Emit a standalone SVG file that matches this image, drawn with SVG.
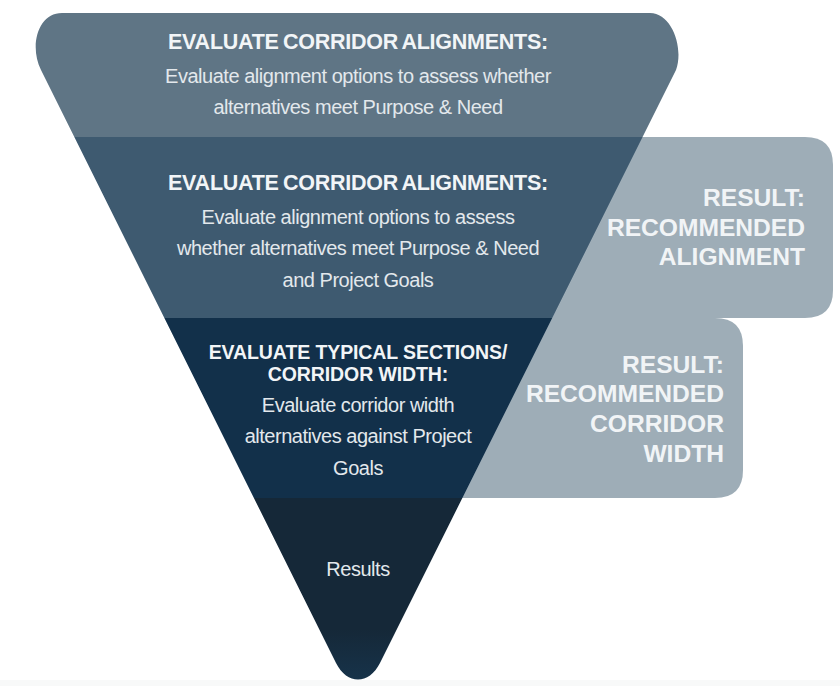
<svg xmlns="http://www.w3.org/2000/svg" width="840" height="686" viewBox="0 0 840 686">
<style>
text{font-family:"Liberation Sans",Arial,sans-serif;text-anchor:middle}
.h{font-size:21.5px;font-weight:bold;fill:#f2f5f7;letter-spacing:-.25px;word-spacing:-1.5px}
.h3{font-size:19.5px;font-weight:bold;fill:#f2f5f7;letter-spacing:-.1px}
.b{font-size:20px;fill:#e3e8ec;letter-spacing:-.48px}
.r{font-size:24.6px;font-weight:bold;fill:#f1f4f6;text-anchor:end}
</style>
<defs>
<clipPath id="funnel"><path d="M62 13H650C672 13 684 48 676 70L380 663C369 685 347 685 336 663L41 70C29 46 38 13 62 13Z"/></clipPath>
<linearGradient id="tip" x1="0" y1="0" x2="0" y2="1"><stop offset="0" stop-color="#152838"/><stop offset=".7" stop-color="#152838"/><stop offset="1" stop-color="#17344c"/></linearGradient>
</defs>
<rect width="840" height="686" fill="#fff"/>
<rect x="0" y="680" width="840" height="6" fill="#f8f9f9"/>
<g id="result-alignment">
<path d="M560 137H805Q833 137 833 165V290Q833 318 805 318H500Z" fill="#9eadb7"/>
<text class="r" x="805" y="206">RESULT:</text>
<text class="r" x="805" y="236">RECOMMENDED</text>
<text class="r" x="805" y="265">ALIGNMENT</text>
</g>
<g id="result-corridor">
<path d="M500 318H715Q743 318 743 346V470Q743 498 715 498H440Z" fill="#9eadb7"/>
<text class="r" x="724" y="373">RESULT:</text>
<text class="r" x="724" y="402">RECOMMENDED</text>
<text class="r" x="724" y="432">CORRIDOR</text>
<text class="r" x="724" y="462">WIDTH</text>
</g>
<g id="funnel-bands" clip-path="url(#funnel)">
<rect x="0" y="0" width="840" height="137" fill="#5f7585"/>
<rect x="0" y="137" width="840" height="181" fill="#3e5a70"/>
<rect x="0" y="318" width="840" height="180" fill="#12304a"/>
<rect x="0" y="498" width="840" height="188" fill="url(#tip)"/>
</g>
<g id="step-1">
<text class="h" x="358" y="49">EVALUATE CORRIDOR ALIGNMENTS:</text>
<text class="b" x="358" y="83">Evaluate alignment options to assess whether</text>
<text class="b" x="358" y="114">alternatives meet Purpose &amp; Need</text>
</g>
<g id="step-2">
<text class="h" x="358" y="190">EVALUATE CORRIDOR ALIGNMENTS:</text>
<text class="b" x="358" y="224">Evaluate alignment options to assess</text>
<text class="b" x="358" y="255">whether alternatives meet Purpose &amp; Need</text>
<text class="b" x="358" y="287">and Project Goals</text>
</g>
<g id="step-3">
<text class="h3" x="358" y="359">EVALUATE TYPICAL SECTIONS/</text>
<text class="h3" x="358" y="381">CORRIDOR WIDTH:</text>
<text class="b" x="358" y="412">Evaluate corridor width</text>
<text class="b" x="358" y="443">alternatives against Project</text>
<text class="b" x="358" y="475">Goals</text>
</g>
<g id="step-4">
<text class="b" x="358" y="576">Results</text>
</g>
<g id="connectors"/>
</svg>
